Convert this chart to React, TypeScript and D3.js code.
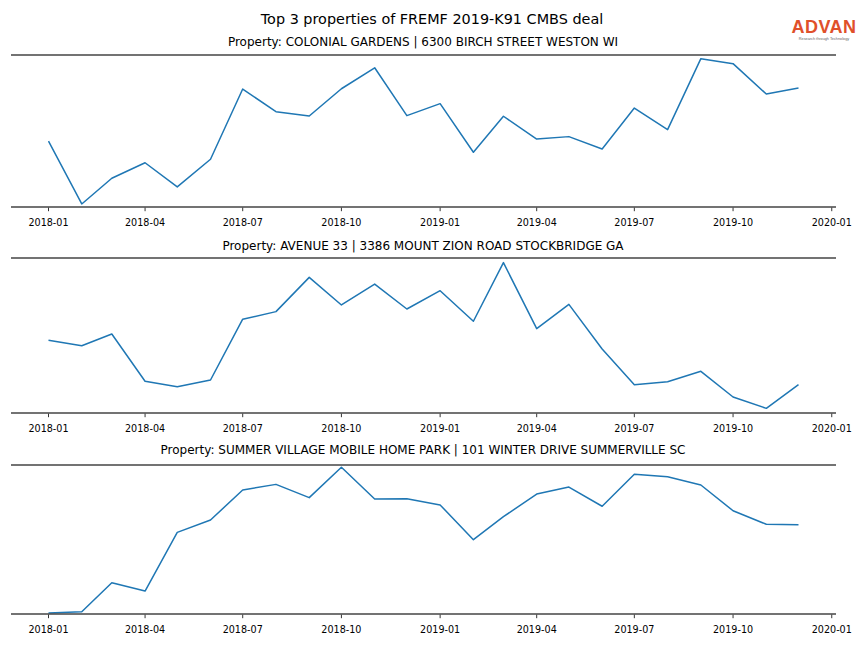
import React from "react";
import * as d3 from "d3";

const months: string[] = [
  "2018-01","2018-02","2018-03","2018-04","2018-05","2018-06","2018-07","2018-08","2018-09","2018-10","2018-11","2018-12",
  "2019-01","2019-02","2019-03","2019-04","2019-05","2019-06","2019-07","2019-08","2019-09","2019-10","2019-11","2019-12",
];

const titles: string[] = [
  "Property: COLONIAL GARDENS | 6300 BIRCH STREET WESTON WI",
  "Property: AVENUE 33 | 3386 MOUNT ZION ROAD STOCKBRIDGE GA",
  "Property: SUMMER VILLAGE MOBILE HOME PARK | 101 WINTER DRIVE SUMMERVILLE SC",
];

const colonialGardens: number[] = [43.4, 2.0, 18.9, 29.1, 13.2, 31.4, 77.6, 62.7, 59.9, 77.8, 91.6, 60.1, 68.0, 36.0, 59.7, 44.7, 46.3, 38.2, 65.1, 50.9, 97.6, 94.3, 74.3, 78.3];
const avenue33: number[] = [46.9, 43.4, 51.0, 20.5, 17.0, 21.3, 60.5, 65.4, 87.5, 69.7, 83.2, 67.1, 78.9, 59.2, 97.0, 54.4, 70.1, 41.3, 18.3, 20.2, 26.9, 10.3, 3.0, 18.3];
const summerVillage: number[] = [0.7, 1.5, 21.0, 15.4, 54.8, 63.1, 83.2, 87.0, 78.1, 98.5, 77.2, 77.4, 73.2, 49.9, 65.3, 80.5, 85.2, 72.3, 93.8, 92.1, 86.6, 69.3, 60.2, 59.9];

const series: number[][] = [colonialGardens, avenue33, summerVillage];

const tickLabels: string[] = ["2018-01","2018-04","2018-07","2018-10","2019-01","2019-04","2019-07","2019-10","2020-01"];

const panels = [
  { top: 55, bottom: 207, titleY: 46 },
  { top: 258, bottom: 413, titleY: 250 },
  { top: 465, bottom: 614, titleY: 454 },
];

const parse = d3.utcParse("%Y-%m");

export default function App() {
  const dates = months.map((m) => parse(m) as Date);
  const first = dates[0].getTime();
  const last = dates[dates.length - 1].getTime();
  const pad = (last - first) * 0.05;
  const x = d3.scaleUtc().domain([new Date(first - pad), new Date(last + pad)]).range([11, 836]);
  const ticks = tickLabels.map((t) => parse(t) as Date);

  return (
    <svg width={864} height={648} style={{ position: "absolute", left: 0, top: 0, background: "#fff" }} fontFamily="DejaVu Sans">
      <rect x={0} y={0} width={864} height={648} fill="#fff" />
      <text x={432} y={24} textAnchor="middle" fontSize={14.4} fill="#000">
        Top 3 properties of FREMF 2019-K91 CMBS deal
      </text>
      <g>
        <text x={824} y={33} textAnchor="middle" fontSize={18} fontWeight="bold" fill="#e0502a" fontFamily="Liberation Sans" letterSpacing={0.5}>
          ADVAN
        </text>
        <text x={824} y={40} textAnchor="middle" fontSize={3.8} fill="#666" fontFamily="Liberation Sans">
          Research through Technology
        </text>
      </g>
      {panels.map((p, i) => {
        const y = d3.scaleLinear().domain([0, 100]).range([p.bottom, p.top]);
        const line = d3
          .line<number>()
          .x((_, j) => x(dates[j]))
          .y((v) => y(v));
        return (
          <g key={i}>
            <text x={423} y={p.titleY} textAnchor="middle" fontSize={12} fill="#000">
              {titles[i]}
            </text>
            <path d={line(series[i]) || ""} fill="none" stroke="#1f77b4" strokeWidth={1.5} strokeLinejoin="round" />
            <line x1={11} x2={836} y1={p.top} y2={p.top} stroke="#444" strokeWidth={1.4} />
            <line x1={11} x2={836} y1={p.bottom} y2={p.bottom} stroke="#444" strokeWidth={1.4} />
            {ticks.map((t, k) => (
              <g key={k} transform={`translate(${x(t)},${p.bottom})`}>
                <line y1={0.7} y2={4.2} stroke="#000" strokeWidth={0.8} />
                <text y={18.5} textAnchor="middle" fontSize={9.6} fill="#000">
                  {tickLabels[k]}
                </text>
              </g>
            ))}
          </g>
        );
      })}
    </svg>
  );
}
